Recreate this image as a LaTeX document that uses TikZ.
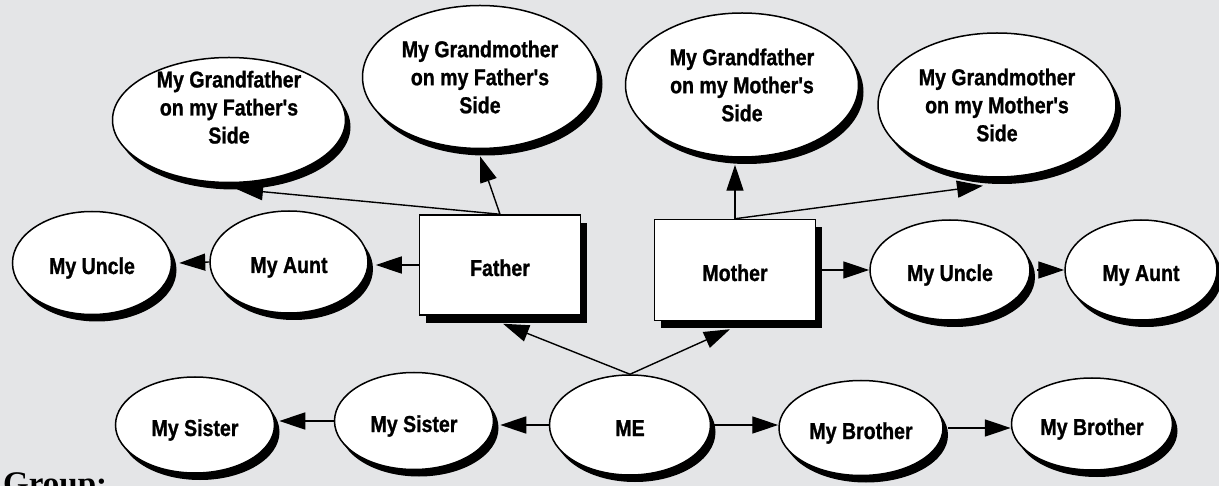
\documentclass[tikz,border=0pt]{standalone}
\usepackage{fontspec}
\newfontfamily\labelfont{Liberation Sans}[FakeStretch=0.85, FakeBold=1]
\newfontfamily\groupfont{Liberation Serif}
\usetikzlibrary{arrows.meta, shapes.geometric, shadows}
\definecolor{bggray}{RGB}{228,229,231}

\begin{document}
\begin{tikzpicture}[x=1pt, y=-1pt, >={Triangle[length=26pt, width=17pt]},
  person/.style={ellipse, draw, line width=1.5pt, fill=white, inner sep=0pt,
    align=center, font=\labelfont\bfseries\fontsize{23}{28}\selectfont,
    drop shadow={shadow xshift=5pt, shadow yshift=-7pt, fill=black, opacity=1}},
  parent/.style={rectangle, draw, line width=1.5pt, fill=white, inner sep=0pt,
    font=\labelfont\bfseries\fontsize{23}{28}\selectfont,
    text height=22pt, text depth=0pt,
    drop shadow={shadow xshift=6pt, shadow yshift=-8pt, fill=black, opacity=1}},
  oneline/.style={text height=22pt, text depth=0pt},
  link/.style={->, line width=1.4pt}]

  % Background and frame
  \useasboundingbox (0,0) rectangle (1219,486);
  \clip (0,0) rectangle (1219,486);
  \fill[bggray] (0,0) rectangle (1219,486);

  % Grandparents
  \node[person, minimum width=233pt, minimum height=125pt,
    text height=60pt, text depth=13pt] (gff) at (229,120)
    {My Grandfather\\on my Father's\\Side};
  \node[person, minimum width=235pt, minimum height=143pt] (gmf) at (480,77)
    {My Grandmother\\on my Father's\\Side};
  \node[person, minimum width=233pt, minimum height=144pt] (gfm) at (742,85)
    {My Grandfather\\on my Mother's\\Side};
  \node[person, minimum width=238pt, minimum height=144pt] (gmm) at (997,105)
    {My Grandmother\\on my Mother's\\Side};

  % Parents, uncles and aunts
  \node[parent, minimum width=161pt, minimum height=100pt] (father) at (500,265) {Father};
  \node[parent, minimum width=161pt, minimum height=101pt] (mother) at (735,270) {Mother};
  \node[person, oneline, minimum width=158pt, minimum height=102pt] (auntl) at (289,262) {My Aunt};
  \node[person, oneline, minimum width=159pt, minimum height=103pt] (unclel) at (92,263) {My Uncle};
  \node[person, oneline, minimum width=160pt, minimum height=100pt] (unclr) at (950,270) {My Uncle};
  \node[person, oneline, minimum width=152pt, minimum height=100pt] (auntr) at (1141,270) {My Aunt};

  % Me and siblings
  \node[person, oneline, minimum width=161pt, minimum height=100pt] (me) at (630,425) {ME};
  \node[person, oneline, minimum width=159pt, minimum height=97pt] (sisa) at (414,421) {My Sister};
  \node[person, oneline, minimum width=159pt, minimum height=96pt] (sisb) at (195,425) {My Sister};
  \node[person, oneline, minimum width=164pt, minimum height=95pt] (bro1) at (861,428) {My Brother};
  \node[person, oneline, minimum width=161pt, minimum height=92pt] (bro2) at (1092,424) {My Brother};

  % Links
  \draw[link] (father.north) -- ([shift={(8,6)}]gff.south);
  \draw[link] (father.north) -- ([yshift=-7pt]gmf.south);
  \draw[link] (mother.north) -- ([shift={(-7,7)}]gfm.south);
  \draw[link] (mother.north) -- ([shift={(-14,8)}]gmm.south);
  \draw[link] (father.west) -- ([xshift=7pt]auntl.east |- father.west);
  \draw[link] (auntl.west) -- ([xshift=7pt]unclel.east);
  \draw[link] (mother.east) -- (unclr.west);
  \draw[link] ([xshift=6pt]unclr.east) -- (auntr.west);
  \draw[link] (me.north) -- ([shift={(3,8)}]father.south);
  \draw[link] (me.north) -- ([shift={(-5,8)}]mother.south);
  \draw[link] (me.west) -- ([xshift=6pt]sisa.east |- me.west);
  \draw[link] (sisa.west) -- ([xshift=4pt]sisb.east |- sisa.west);
  \draw[link] (me.east) -- (bro1.west |- me.east);
  \draw[link] ([xshift=4pt]bro1.east) -- (bro2.west |- bro1.east);

  % Caption, cut by the frame
  \node[anchor=base west, inner sep=0pt,
    font=\groupfont\bfseries\fontsize{33}{33}\selectfont] (group) at (3,494) {Group:};
\end{tikzpicture}
\end{document}
